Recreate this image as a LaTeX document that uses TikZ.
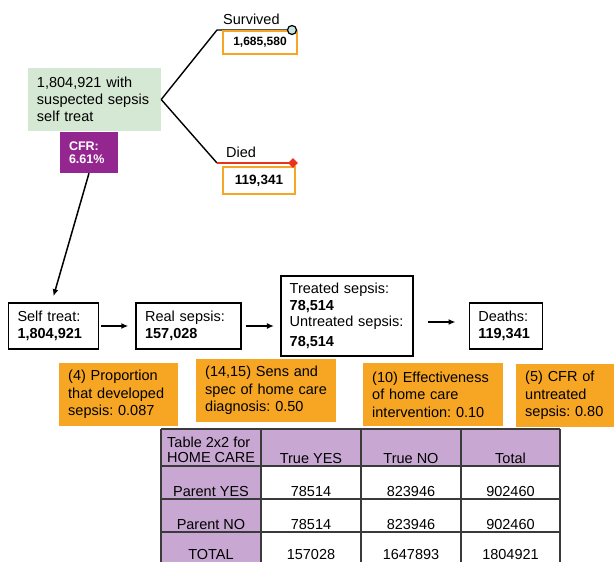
\documentclass[tikz,border=0pt]{standalone}
\usepackage{fontspec}
\setmainfont{Liberation Sans}
\usetikzlibrary{arrows.meta, positioning, shapes.geometric}
\frenchspacing

\definecolor{greenbox}{HTML}{D5E8D4}
\definecolor{cfrpurple}{HTML}{93278F}
\definecolor{paramorange}{HTML}{F6A623}
\definecolor{lavender}{HTML}{C8A8D2}
\definecolor{diedred}{HTML}{E8341C}
\definecolor{survblue}{HTML}{C6E4E8}
\definecolor{gridgray}{HTML}{3A3A3A}

\begin{document}
\begin{tikzpicture}[x=1pt, y=-1pt,
    every node/.style={font=\fontsize{14.5}{17}\selectfont, inner sep=0pt},
    flowbox/.style={rectangle, draw=black, line width=1.6pt, align=left,
                    text width=#1, minimum height=46pt, inner xsep=9pt,
                    font=\fontsize{14.5}{16.5}\selectfont},
    parambox/.style={rectangle, fill=paramorange, align=left, text width=#1,
                     minimum height=63pt, inner xsep=9pt, anchor=north west,
                     font=\fontsize{14.5}{17.5}\selectfont},
    valbox/.style={rectangle, draw=paramorange, line width=1.4pt, fill=white,
                   font=\bfseries\fontsize{12}{14}\selectfont},
    arrow/.style={-{Latex[length=7pt,width=6pt]}, line width=1.5pt},
    branch/.style={line width=1.4pt},
    tablegrid/.style={draw=gridgray, line width=1.2pt}
]
\useasboundingbox (0,0) rectangle (614,562);
\clip (0,0) rectangle (614,562);

% decision tree
\node[rectangle, fill=greenbox, align=left, text width=115pt, minimum height=63pt,
      inner xsep=9pt] (green) at (94.5,99.5)
      {1,804,921 with\\suspected sepsis\\self treat};
\node[rectangle, fill=cfrpurple, text=white, align=left, text width=40pt,
      minimum height=41pt, inner xsep=9pt, font=\bfseries\fontsize{12.5}{13.5}\selectfont]
      (cfr) at (89,152.5) {CFR:\\6.61\%};

\coordinate (survknee) at (217,30);
\coordinate (diedknee) at (217,163);
\node[anchor=base west] (survlab) at (223,24) {Survived};
\node[anchor=base west] (diedlab) at (226,157) {Died};

\draw[branch] (green.east) -- (survknee) -- (292,30) coordinate (survtip);
\draw[branch] (green.east) -- (diedknee);
\draw[branch, diedred] (diedknee) -- (293,163) coordinate (diedtip);

\node[valbox, minimum width=74pt, minimum height=23pt] (survval) at (260,42.5) {1,685,580};
\node[valbox, minimum width=72pt, minimum height=27pt,
      font=\bfseries\fontsize{13.5}{15}\selectfont] (diedval) at (259,180.5) {119,341};
\node[circle, draw=black, fill=survblue, line width=1.2pt, minimum size=9pt] (survend) at (survtip) {};
\node[diamond, fill=diedred, minimum size=10pt] (diedend) at (diedtip) {};

% flow row
\node[flowbox=72pt] (self) at (53.5,326) {Self treat:\\\textbf{1,804,921}};
\node[flowbox=87pt, right=36pt of self] (real) {Real sepsis:\\\textbf{157,028}};
\node[flowbox=114pt, minimum height=80pt, right=38pt of real, yshift=10pt] (treated)
      {Treated sepsis:\\\textbf{78,514}\\Untreated sepsis:\\[3pt]\textbf{78,514}};
\node[flowbox=55pt, right=55pt of treated, yshift=-10pt] (deaths) {Deaths:\\\textbf{119,341}};

\draw[arrow] (cfr.south) -- ([yshift=6pt]self.north);
\draw[arrow, shorten <=2pt, shorten >=7pt] (self) -- (real);
\draw[arrow, shorten <=4pt, shorten >=6pt] (real.east) -- (real.east -| treated.west);
\draw[arrow, shorten <=14pt, shorten >=13pt] ([yshift=-6pt]treated.east) -- ([yshift=-6pt]treated.east -| deaths.west);

% parameters
\node[parambox=101pt] (p4) at (59,363) {(4) Proportion\\that developed\\sepsis: 0.087};
\node[parambox=122pt] (p14) at (196,359) {(14,15) Sens and\\spec of home care\\diagnosis: 0.50};
\node[parambox=122pt] (p10) at (363,363) {(10) Effectiveness\\of home care\\intervention: 0.10};
\node[parambox=82pt] (p5) at (516,364) {(5) CFR of\\untreated\\sepsis: 0.80};

% 2x2 table
\fill[lavender] (161,429) rectangle (560,466);
\fill[lavender] (161,466) rectangle (261,575);
\foreach \yy in {429,466,499,532}
  \draw[tablegrid] (161,\yy) -- (560,\yy);
\foreach \xx in {161,261,361,461,560}
  \draw[tablegrid] (\xx,429) -- (\xx,575);

\node[anchor=north west, align=left, font=\fontsize{14.5}{15}\selectfont] (corner) at (167,436.5)
      {Table 2x2 for\\HOME CARE};
\node[anchor=base] (truey) at (311,463) {True YES};
\node[anchor=base] (truen) at (411,463) {True NO};
\node[anchor=base] (total) at (510.5,463) {Total};
\foreach \lab/\a/\b/\c/\yy [count=\i] in {Parent YES/78514/823946/902460/496,
    Parent NO/78514/823946/902460/529, TOTAL/157028/1647893/1804921/559}{
  \node[anchor=base] (rowlab\i) at (211,\yy) {\lab};
  \node[anchor=base] (cellA\i) at (311,\yy) {\a};
  \node[anchor=base] (cellB\i) at (411,\yy) {\b};
  \node[anchor=base] (cellC\i) at (510.5,\yy) {\c};
}
\end{tikzpicture}
\end{document}
